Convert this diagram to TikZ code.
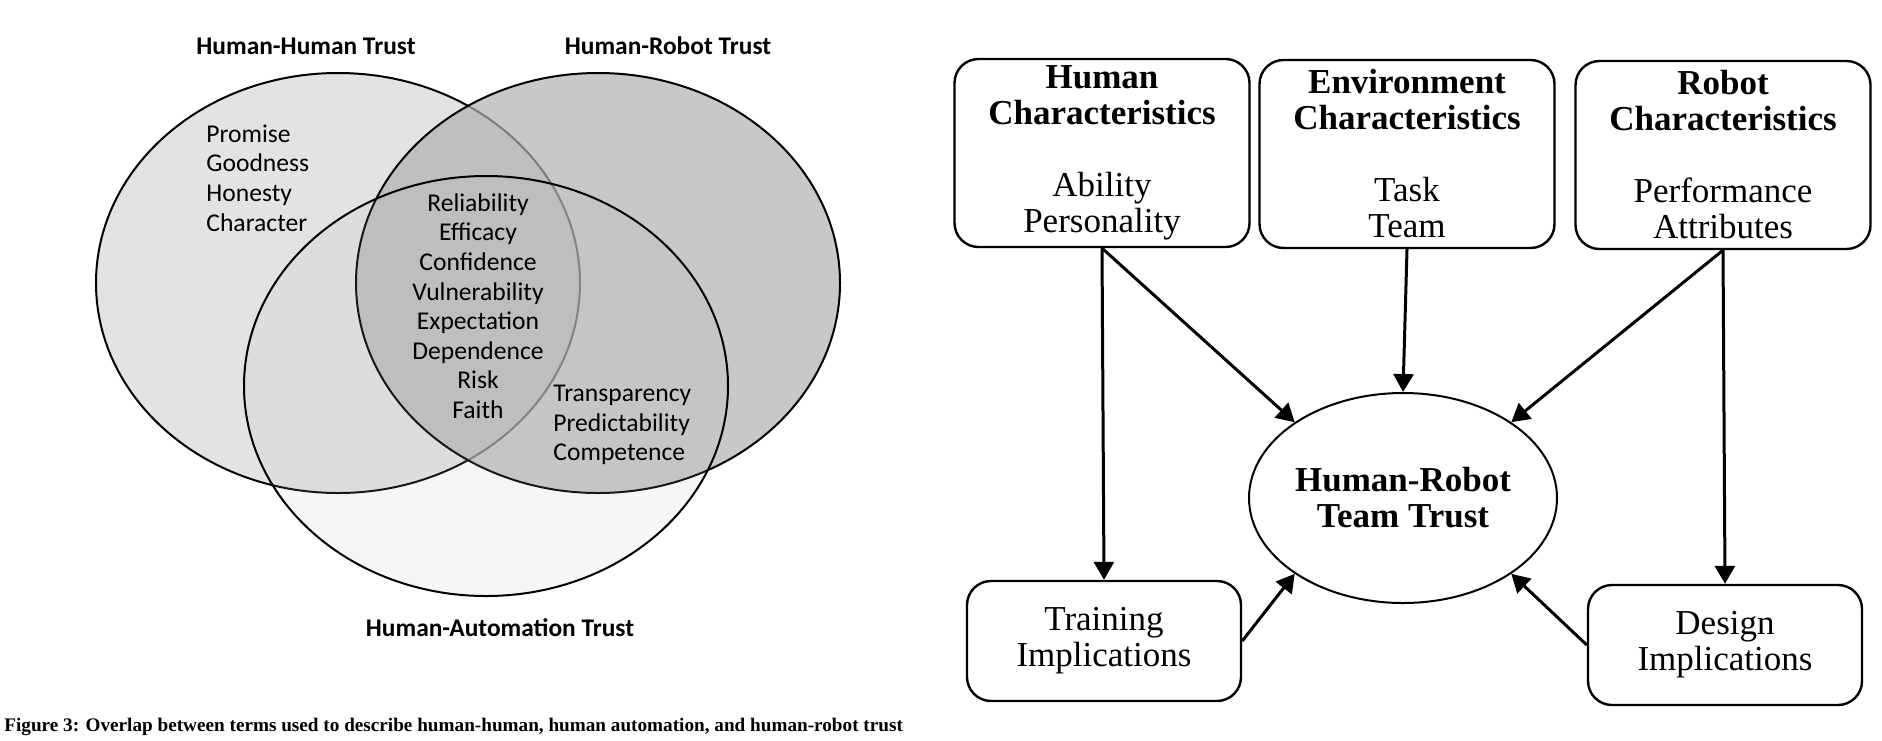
\documentclass[tikz,border=0pt]{standalone}
\usepackage{fontspec}
\setmainfont{Liberation Serif}
\newfontfamily\calfont{Carlito}
\usetikzlibrary{arrows.meta}
\usetikzlibrary{shapes.geometric}

\begin{document}
\begin{tikzpicture}[x=0.5pt,y=-0.5pt,
	venn/.style={line width=1pt},
	vlabel/.style={inner sep=0pt,font=\calfont\bfseries\fontsize{12.7}{15}\selectfont},
	vterms/.style={inner sep=0pt,font=\calfont\fontsize{12.8}{14.8}\selectfont},
	charbox/.style={draw,line width=1.2pt,rounded corners=12pt,minimum width=147.5pt,minimum height=94pt,align=center,inner sep=0pt,font=\fontsize{17.5}{18}\selectfont},
	implbox/.style={charbox,minimum width=137pt,minimum height=60pt},
	link/.style={line width=1.5pt,-{Triangle[length=9pt,width=10pt]}}]
	\useasboundingbox (0,0) rectangle (1882,740);
	%% venn circles
	\draw[venn,fill=black!11] (338,283) ellipse [x radius=121pt,y radius=105pt];
	\draw[venn,fill=black!31,fill opacity=0.7] (598,283) ellipse [x radius=121pt,y radius=105pt];
	\draw[venn,fill=black!27,fill opacity=0.13] (486,386) ellipse [x radius=121pt,y radius=105pt];
	%% venn labels
	\node[vlabel] (hhlab) at (306,46) {Human-Human Trust};
	\node[vlabel] (hrlab) at (668,46) {Human-Robot Trust};
	\node[vlabel] (halab) at (500,628) {Human-Automation Trust};
	\node[vterms,anchor=west,align=left] (hhterms) at (206,178) {Promise\\Goodness\\Honesty\\Character};
	\node[vterms,align=center] (allterms) at (478,306) {Reliability\\Efficacy\\Confidence\\Vulnerability\\Expectation\\Dependence\\Risk\\Faith};
	\node[vterms,anchor=west,align=left] (hrterms) at (553,425) {Transparency\\Predictability\\Competence};
	\node[anchor=west,inner sep=0pt,font=\bfseries\fontsize{9.6}{11}\selectfont] (caption) at (4,727) {Figure 3: Overlap between terms used to describe human-human, human automation, and human-robot trust};
	%% trust model
	\node[charbox] (human) at (1102,153) {\textbf{Human}\\\textbf{Characteristics}\\[18pt]Ability\\Personality};
	\node[charbox] (env) at (1407,154) {\textbf{Environment}\\\textbf{Characteristics}\\[18pt]Task\\Team};
	\node[charbox] (robot) at (1723,155) {\textbf{Robot}\\\textbf{Characteristics}\\[18pt]Performance\\Attributes};
	\node[draw,ellipse,line width=1pt,minimum width=154pt,minimum height=105pt,inner sep=0pt,align=center,font=\bfseries\fontsize{17.5}{18}\selectfont] (team) at (1403,498) {Human-Robot\\Team Trust};
	\node[implbox] (train) at (1104,641) {Training\\Implications};
	\node[implbox] (design) at (1725,645) {Design\\Implications};
	\draw[link] (human.south) -- (train.north);
	\draw[link] (human.south) -- (team.145);
	\draw[link] (env.south) -- (team.north);
	\draw[link] (robot.south) -- (team.35);
	\draw[link] (robot.south) -- (design.north);
	\draw[link] (train.east) -- (team.215);
	\draw[link] (design.west) -- (team.325);
\end{tikzpicture}
\end{document}
